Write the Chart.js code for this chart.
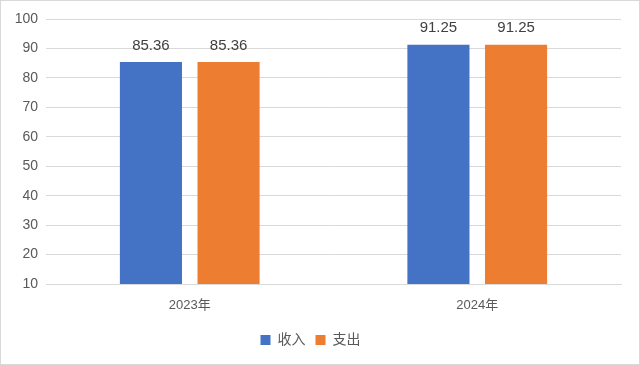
<!DOCTYPE html>
<html>
<head>
<meta charset="utf-8">
<style>
  html, body { margin: 0; padding: 0; background: #fff; }
  #wrap { width: 640px; height: 365px; position: relative; }
</style>
</head>
<body>
<div id="wrap"><canvas id="chart" width="640" height="365"></canvas></div>

<script src="https://cdn.jsdelivr.net/npm/chart.js"></script>
<script>
  // chart data
  const categories = ['2023年', '2024年'];
  const seriesNames = ['收入', '支出'];
  const incomeValues = [85.36, 91.25];
  const expenseValues = [85.36, 91.25];
  const yTicks = [10, 20, 30, 40, 50, 60, 70, 80, 90, 100];

  const FONT = '"Liberation Sans", "Noto Sans CJK SC", sans-serif';

  // value labels above each bar
  const valueLabels = {
    id: 'valueLabels',
    afterDatasetsDraw(chart) {
      const ctx = chart.ctx;
      ctx.save();
      ctx.font = '15px ' + FONT;
      ctx.fillStyle = '#404040';
      ctx.textAlign = 'center';
      ctx.textBaseline = 'bottom';
      chart.data.datasets.forEach((ds, i) => {
        chart.getDatasetMeta(i).data.forEach((bar, j) => {
          ctx.fillText(ds.data[j].toFixed(2), bar.x, bar.y - 9);
        });
      });
      ctx.restore();
    }
  };

  // light outer frame
  const frame = {
    id: 'frame',
    afterDraw(chart) {
      const ctx = chart.ctx;
      ctx.save();
      ctx.strokeStyle = '#d9d9d9';
      ctx.lineWidth = 1;
      ctx.strokeRect(0.5, 0.5, chart.width - 1, chart.height - 1);
      ctx.restore();
    }
  };

  new Chart(document.getElementById('chart'), {
    type: 'bar',
    data: {
      labels: categories,
      datasets: [
        { label: seriesNames[0], data: incomeValues, backgroundColor: '#4472C4' },
        { label: seriesNames[1], data: expenseValues, backgroundColor: '#ED7D31' }
      ]
    },
    options: {
      responsive: false,
      animation: false,
      layout: { padding: { top: 19, right: 19, bottom: 8, left: 0 } },
      datasets: {
        bar: { categoryPercentage: 0.54, barPercentage: 0.8 }
      },
      plugins: {
        legend: {
          position: 'bottom',
          labels: {
            boxWidth: 10,
            boxHeight: 10,
            padding: 10,
            color: '#595959',
            font: { size: 14, family: FONT }
          }
        },
        tooltip: { enabled: false }
      },
      scales: {
        x: {
          grid: { display: false },
          border: { color: '#d9d9d9' },
          ticks: { color: '#595959', padding: 6, font: { size: 13, family: FONT } },
          afterFit: scale => { scale.height = 39; }
        },
        y: {
          min: 10,
          max: 100,
          afterBuildTicks: scale => { scale.ticks = yTicks.map(v => ({ value: v })); },
          grid: { color: '#d9d9d9', drawTicks: false },
          border: { display: false },
          ticks: { color: '#595959', padding: 8, font: { size: 14, family: FONT } },
          afterFit: scale => { scale.width = 46; }
        }
      }
    },
    plugins: [valueLabels, frame]
  });
</script>
</body>
</html>
